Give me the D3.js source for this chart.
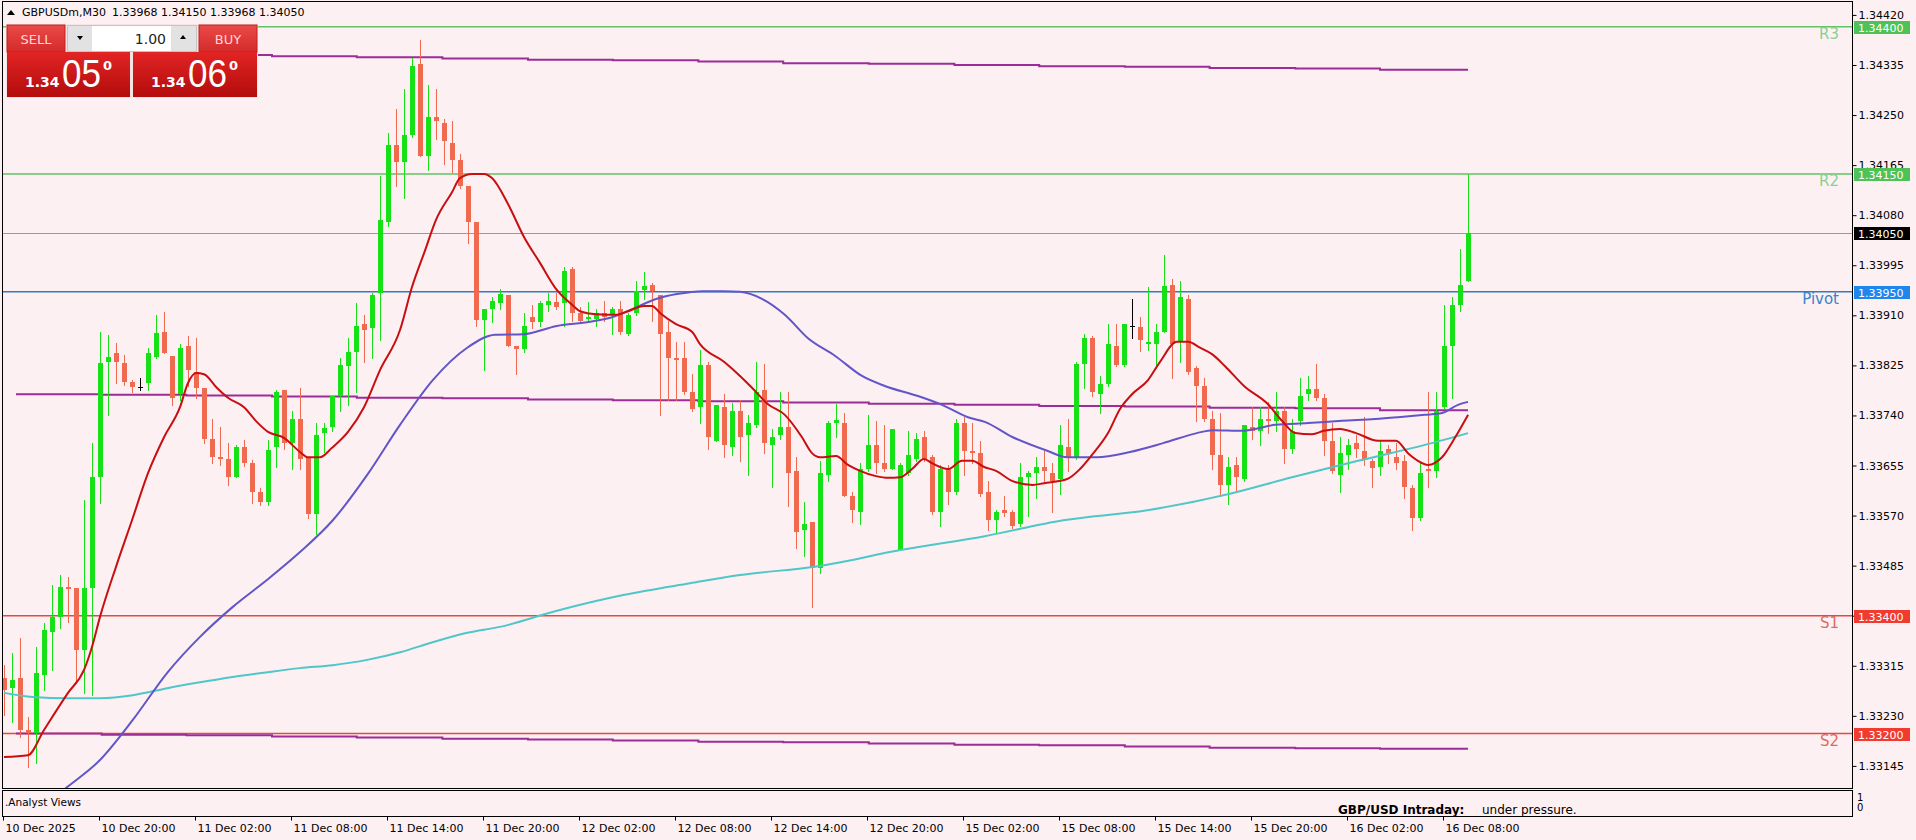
<!DOCTYPE html>
<html><head><meta charset="utf-8">
<script src="https://cdn.jsdelivr.net/npm/d3@7"></script>
<style>
html,body{margin:0;padding:0;background:#fdf0f3;}
svg{display:block;font-family:"DejaVu Sans",sans-serif;}
</style></head><body>
<svg id="chart" width="1916" height="840"></svg>
<script>
// ---------------- DATA ----------------
const symbolTitle = "GBPUSDm,M30";
const titleValues = "1.33968 1.34150 1.33968 1.34050";
const barOpen = [
1.33294,1.33277,1.33294,1.33206,1.33201,1.33299,1.33372,1.33398,1.33449,1.33447,
1.33342,1.33447,1.33635,1.33831,1.33846,1.33829,1.33797,1.33788,1.33795,1.33839,
1.33882,1.33841,1.33776,1.33858,1.33814,1.33787,1.33700,1.33669,1.33666,1.33635,
1.33686,1.33659,1.33610,1.33593,1.33686,1.33783,1.33693,1.33734,1.33669,1.33573,
1.33710,1.33720,1.33773,1.33824,1.33848,1.33895,1.33888,1.33948,1.34068,1.34199,
1.34170,1.34216,1.34337,1.34180,1.34247,1.34237,1.34203,1.34174,1.34130,1.34068,
1.33902,1.33921,1.33931,1.33944,1.33858,1.33853,1.33907,1.33899,1.33928,1.33933,
1.33931,1.33989,1.33914,1.33904,1.33904,1.33914,1.33911,1.33921,1.33878,1.33914,
1.33953,1.33961,1.33944,1.33882,1.33838,1.33838,1.33780,1.33754,1.33826,1.33697,
1.33754,1.33686,1.33748,1.33707,1.33724,1.33783,1.33690,1.33707,1.33720,1.33646,
1.33546,1.33559,1.33481,1.33639,1.33727,1.33727,1.33603,1.33576,1.33649,1.33690,
1.33659,1.33649,1.33512,1.33642,1.33666,1.33703,1.33669,1.33576,1.33649,1.33610,
1.33727,1.33680,1.33676,1.33610,1.33562,1.33579,1.33576,1.33556,1.33635,1.33642,
1.33652,1.33642,1.33632,1.33686,1.33669,1.33827,1.33871,1.33776,1.33793,1.33858,
1.33826,1.33892,1.33890,1.33861,1.33861,1.33882,1.33961,1.33865,1.33938,1.33821,
1.33790,1.33734,1.33673,1.33622,1.33656,1.33632,1.33720,1.33714,1.33734,1.33731,
1.33748,1.33683,1.33731,1.33776,1.33785,1.33770,1.33697,1.33639,1.33673,1.33693,
1.33680,1.33663,1.33652,1.33683,1.33669,1.33663,1.33617,1.33566,1.33649,1.33646,
1.33754,1.33858,1.33928,1.33968];
const barHigh = [
1.33316,1.33337,1.33362,1.33228,1.33347,1.33388,1.33452,1.33469,1.33466,1.33447,
1.33596,1.33693,1.33882,1.33877,1.33863,1.33843,1.33800,1.33804,1.33855,1.33911,
1.33916,1.33841,1.33861,1.33875,1.33871,1.33787,1.33734,1.33720,1.33693,1.33690,
1.33698,1.33664,1.33617,1.33698,1.33783,1.33783,1.33748,1.33787,1.33669,1.33727,
1.33727,1.33773,1.33838,1.33871,1.33931,1.33911,1.33948,1.34147,1.34220,1.34260,
1.34294,1.34347,1.34377,1.34301,1.34294,1.34243,1.34240,1.34184,1.34130,1.34068,
1.33921,1.33941,1.33955,1.33944,1.33858,1.33914,1.33928,1.33934,1.33948,1.33948,
1.33992,1.33992,1.33924,1.33933,1.33921,1.33934,1.33924,1.33934,1.33914,1.33968,
1.33984,1.33965,1.33944,1.33900,1.33865,1.33865,1.33810,1.33851,1.33831,1.33758,
1.33776,1.33761,1.33766,1.33741,1.33831,1.33827,1.33717,1.33780,1.33780,1.33669,
1.33593,1.33559,1.33663,1.33731,1.33759,1.33744,1.33610,1.33659,1.33741,1.33731,
1.33724,1.33717,1.33659,1.33714,1.33710,1.33714,1.33673,1.33656,1.33656,1.33734,
1.33737,1.33727,1.33697,1.33629,1.33579,1.33603,1.33579,1.33659,1.33646,1.33669,
1.33680,1.33659,1.33724,1.33734,1.33831,1.33878,1.33875,1.33807,1.33895,1.33895,
1.33895,1.33938,1.33907,1.33958,1.33895,1.34012,1.33972,1.33968,1.33944,1.33824,
1.33804,1.33748,1.33744,1.33669,1.33669,1.33724,1.33754,1.33754,1.33763,1.33780,
1.33754,1.33734,1.33804,1.33807,1.33827,1.33776,1.33727,1.33703,1.33700,1.33707,
1.33737,1.33666,1.33697,1.33690,1.33693,1.33673,1.33622,1.33659,1.33780,1.33780,
1.33928,1.33941,1.34023,1.34150];
const barLow = [
1.33231,1.33220,1.33194,1.33143,1.33150,1.33274,1.33308,1.33379,1.33389,1.33291,
1.33269,1.33265,1.33591,1.33741,1.33795,1.33792,1.33780,1.33783,1.33783,1.33838,
1.33846,1.33758,1.33766,1.33790,1.33770,1.33693,1.33659,1.33656,1.33622,1.33635,
1.33654,1.33591,1.33588,1.33588,1.33652,1.33683,1.33649,1.33649,1.33566,1.33539,
1.33678,1.33714,1.33748,1.33758,1.33780,1.33831,1.33838,1.33868,1.34062,1.34130,
1.34109,1.34213,1.34180,1.34157,1.34209,1.34167,1.34153,1.34126,1.34033,1.33892,
1.33817,1.33899,1.33921,1.33858,1.33810,1.33848,1.33888,1.33892,1.33917,1.33921,
1.33892,1.33900,1.33899,1.33899,1.33892,1.33900,1.33878,1.33878,1.33877,1.33911,
1.33938,1.33900,1.33741,1.33766,1.33766,1.33776,1.33748,1.33727,1.33683,1.33697,
1.33669,1.33673,1.33663,1.33639,1.33720,1.33676,1.33619,1.33700,1.33586,1.33515,
1.33501,1.33415,1.33473,1.33629,1.33703,1.33603,1.33559,1.33556,1.33646,1.33642,
1.33646,1.33649,1.33512,1.33639,1.33663,1.33663,1.33573,1.33552,1.33590,1.33607,
1.33639,1.33659,1.33603,1.33546,1.33542,1.33569,1.33549,1.33552,1.33569,1.33600,
1.33629,1.33576,1.33607,1.33646,1.33666,1.33787,1.33773,1.33744,1.33790,1.33824,
1.33824,1.33871,1.33849,1.33851,1.33821,1.33882,1.33804,1.33831,1.33810,1.33731,
1.33731,1.33649,1.33603,1.33590,1.33613,1.33629,1.33700,1.33690,1.33710,1.33714,
1.33659,1.33676,1.33724,1.33766,1.33766,1.33673,1.33642,1.33610,1.33649,1.33669,
1.33656,1.33619,1.33639,1.33659,1.33649,1.33600,1.33546,1.33562,1.33619,1.33635,
1.33751,1.33770,1.33917,1.33968];
const barClose = [
1.33274,1.33291,1.33206,1.33201,1.33303,1.33376,1.33398,1.33449,1.33445,1.33342,
1.33447,1.33635,1.33829,1.33839,1.33831,1.33797,1.33788,1.33788,1.33846,1.33880,
1.33846,1.33770,1.33855,1.33817,1.33787,1.33700,1.33669,1.33666,1.33635,1.33686,
1.33659,1.33610,1.33593,1.33681,1.33780,1.33693,1.33734,1.33666,1.33573,1.33707,
1.33719,1.33773,1.33826,1.33848,1.33892,1.33885,1.33944,1.34072,1.34199,1.34170,
1.34216,1.34333,1.34180,1.34247,1.34240,1.34206,1.34174,1.34130,1.34068,1.33902,
1.33921,1.33934,1.33946,1.33858,1.33853,1.33892,1.33899,1.33931,1.33934,1.33924,
1.33985,1.33914,1.33900,1.33907,1.33914,1.33907,1.33921,1.33882,1.33911,1.33951,
1.33960,1.33951,1.33878,1.33838,1.33834,1.33780,1.33751,1.33826,1.33703,1.33758,
1.33690,1.33748,1.33703,1.33727,1.33780,1.33693,1.33703,1.33720,1.33642,1.33542,
1.33556,1.33481,1.33642,1.33727,1.33732,1.33603,1.33579,1.33649,1.33690,1.33659,
1.33649,1.33717,1.33656,1.33673,1.33700,1.33666,1.33576,1.33649,1.33610,1.33727,
1.33680,1.33676,1.33607,1.33562,1.33576,1.33574,1.33552,1.33635,1.33642,1.33652,
1.33646,1.33629,1.33690,1.33669,1.33827,1.33871,1.33780,1.33793,1.33861,1.33826,
1.33895,1.33892,1.33868,1.33865,1.33882,1.33960,1.33861,1.33941,1.33814,1.33790,
1.33734,1.33673,1.33622,1.33652,1.33635,1.33724,1.33714,1.33734,1.33731,1.33748,
1.33683,1.33714,1.33773,1.33785,1.33770,1.33697,1.33646,1.33676,1.33690,1.33683,
1.33666,1.33651,1.33680,1.33676,1.33659,1.33619,1.33566,1.33642,1.33646,1.33748,
1.33858,1.33928,1.33961,1.34050];

// moving averages: [bar index, price]
const maFast = [[0,1.33160],[3,1.33163],[5,1.33206],[8,1.33269],[10,1.33308],[11,1.33347],[12,1.33398],[14,1.33483],[16,1.33562],[18,1.33642],[20,1.33703],[22,1.33754],[23,1.33795],[24,1.33812],[25,1.33810],[26.6,1.33787],[28,1.33770],[30,1.33754],[31.6,1.33729],[33,1.33712],[35,1.33702],[37,1.33678],[38,1.33669],[39.5,1.33669],[41,1.33685],[43,1.33712],[45,1.33754],[47,1.33817],[49.5,1.33885],[51,1.33958],[52.6,1.34019],[54,1.34072],[56,1.34119],[57,1.34143],[58.5,1.34150],[60,1.34150],[61,1.34143],[63,1.34099],[65,1.34043],[67,1.33999],[69,1.33955],[71,1.33928],[72,1.33917],[74,1.33912],[76.6,1.33911],[78,1.33917],[80,1.33926],[81,1.33926],[82,1.33914],[84,1.33895],[86,1.33882],[87,1.33861],[90,1.33831],[92,1.33807],[93.5,1.33787],[95.5,1.33759],[97.6,1.33741],[99.75,1.33703],[101,1.33676],[102,1.33669],[104,1.33671],[105.5,1.33656],[107,1.33646],[109,1.33637],[110.5,1.33634],[112,1.33635],[113.5,1.33649],[115,1.33666],[116,1.33659],[118,1.33649],[119.75,1.33663],[121,1.33663],[122.6,1.33652],[124,1.33646],[126,1.33629],[128.6,1.33622],[130,1.33625],[132.9,1.33632],[134.5,1.33649],[136,1.33673],[138,1.33710],[139.5,1.33751],[141,1.33776],[143,1.33800],[144.5,1.33831],[146.6,1.33865],[148,1.33865],[149.5,1.33855],[151,1.33844],[152.6,1.33824],[155,1.33790],[158,1.33759],[159.75,1.33731],[161.4,1.33710],[163.5,1.33708],[165,1.33714],[167,1.33717],[169,1.33710],[171.75,1.33697],[174,1.33697],[175.5,1.33676],[176.75,1.33663],[178,1.33656],[179.75,1.33669],[181.4,1.33703],[183,1.33741]];
const maMid = [[5.75,1.33085],[7.9,1.33109],[12,1.33155],[16.1,1.33223],[20.4,1.33303],[24.5,1.33364],[28.6,1.33415],[32.9,1.33461],[37,1.33508],[41.1,1.33562],[45.4,1.33639],[49.5,1.33724],[53.6,1.33800],[57.9,1.33855],[61.4,1.33877],[64.9,1.33878],[69.1,1.33892],[73.25,1.33899],[76.1,1.33907],[78.6,1.33921],[81.6,1.33938],[84.1,1.33946],[87.4,1.33951],[89.9,1.33951],[92,1.33950],[94.75,1.33938],[97.6,1.33911],[100.5,1.33871],[103.9,1.33841],[107.25,1.33807],[110.1,1.33790],[114.25,1.33773],[117.25,1.33758],[120.5,1.33737],[122.6,1.33729],[126.1,1.33703],[130.4,1.33680],[132.9,1.33669],[136.6,1.33669],[140.75,1.33678],[144.9,1.33693],[149.1,1.33710],[151.1,1.33715],[154.75,1.33714],[158.9,1.33724],[163,1.33727],[167.25,1.33731],[171.4,1.33734],[174.25,1.33737],[177.6,1.33741],[179.75,1.33744],[181.75,1.33758],[183,1.33763]];
const maSlow = [[0,1.33269],[3.6,1.33262],[7.9,1.33260],[12,1.33260],[16.1,1.33265],[20.4,1.33277],[24.5,1.33287],[28.6,1.33296],[32.9,1.33304],[37,1.33311],[41.1,1.33316],[45.4,1.33325],[49.5,1.33338],[53.6,1.33355],[57.9,1.33371],[62,1.33381],[69,1.33408],[77.4,1.33435],[85.75,1.33455],[92,1.33469],[101.75,1.33484],[112.25,1.33512],[122.6,1.33535],[132.4,1.33562],[142.9,1.33579],[153.25,1.33607],[161,1.33635],[169.25,1.33663],[177.6,1.33690],[183,1.33710]];

// stepped purple levels: segment start bars and values
const stepStarts = [1.5,12.2,22.8,33.5,44.1,54.8,65.5,76.1,86.8,97.4,108.1,118.8,129.4,140.1,150.7,161.4,172.0];
const stepEnd = 183;
const levelTop = [1.34352,1.34352,1.34352,1.34350,1.34348,1.34346,1.34344,1.34343,1.34341,1.34338,1.34337,1.34335,1.34333,1.34332,1.34330,1.34329,1.34327];
const levelMid = [1.33776,1.33775,1.33774,1.33772,1.33770,1.33769,1.33767,1.33766,1.33764,1.33762,1.33760,1.33758,1.33756,1.33755,1.33753,1.33752,1.33749];
const levelLow = [1.33200,1.33198,1.33197,1.33195,1.33193,1.33191,1.33190,1.33188,1.33186,1.33185,1.33183,1.33181,1.33180,1.33178,1.33176,1.33175,1.33174];

// pivot levels
const pivotNames = ["R3","R2","Pivot","S1","S2"];
const pivotValues = [1.34400,1.34150,1.33950,1.33400,1.33200];
const lastPrice = 1.34050;

const yTicks = [1.34420,1.34335,1.34250,1.34165,1.34080,1.33995,1.33910,1.33825,1.33740,1.33655,1.33570,1.33485,1.33400,1.33315,1.33230,1.33145];
const timeLabels = ["10 Dec 2025","10 Dec 20:00","11 Dec 02:00","11 Dec 08:00","11 Dec 14:00","11 Dec 20:00","12 Dec 02:00","12 Dec 08:00","12 Dec 14:00","12 Dec 20:00","15 Dec 02:00","15 Dec 08:00","15 Dec 14:00","15 Dec 20:00","16 Dec 02:00","16 Dec 08:00"];
const firstBarUTC = Date.UTC(2025,11,10,14,0);

const sellPrice = ["1.34","05","0"];
const buyPrice = ["1.34","06","0"];
const lotSize = "1.00";
const analystTitle = "GBP/USD Intraday:";
const analystText = "under pressure.";

// ---------------- DRAW ----------------
const svg = d3.select("#chart");
const W = 1916, H = 840;
const P = {left:2, right:1852, top:1, bottom:788};
const SUB = {top:790, bottom:816};

const x = d3.scaleLinear().domain([0,183]).range([4,1468]);
const y = d3.scaleLinear().domain([1.34400,1.33200]).range([26.7,733.5]);

svg.append("rect").attr("width",W).attr("height",H).attr("fill","#fdf0f3");

const defs = svg.append("defs");
defs.append("clipPath").attr("id","plotClip").append("rect")
  .attr("x",P.left).attr("y",P.top).attr("width",P.right-P.left).attr("height",P.bottom-P.top);
defs.append("clipPath").attr("id","subClip").append("rect")
  .attr("x",P.left).attr("y",SUB.top).attr("width",P.right-P.left).attr("height",SUB.bottom-SUB.top);

const plot = svg.append("g").attr("clip-path","url(#plotClip)");

// bar times
const months = ["Jan","Feb","Mar","Apr","May","Jun","Jul","Aug","Sep","Oct","Nov","Dec"];
const barKeys = [];
for (let t = firstBarUTC; barKeys.length < barOpen.length; t += 1800000) {
  const d = new Date(t); const wd = d.getUTCDay();
  if (wd === 0 || wd === 6) continue;
  barKeys.push(`${d.getUTCDate()} ${months[d.getUTCMonth()]} ${String(d.getUTCHours()).padStart(2,"0")}:${String(d.getUTCMinutes()).padStart(2,"0")}`);
}
const tickBars = timeLabels.map((l,i) => i === 0 ? 0 : barKeys.indexOf(l));

// pivot lines
const pivotLine = ["#63c266","#63c266","#2f7cc2","#e5483f","#e5483f"];
const pivotText = ["#86d293","#86d293","#3a84c8","#e06a62","#e06a62"];
const pivotBox  = ["#4fc257","#4fc257","#1f86ee","#f23b2f","#f23b2f"];

plot.append("line").attr("x1",P.left).attr("x2",P.right)
  .attr("y1",Math.round(y(lastPrice))+0.5).attr("y2",Math.round(y(lastPrice))+0.5)
  .attr("stroke","#9a9a9a").attr("stroke-width",1);

pivotValues.forEach((v,i) => {
  plot.append("line").attr("x1",P.left).attr("x2",P.right)
    .attr("y1",y(v)).attr("y2",y(v)).attr("stroke",pivotLine[i]).attr("stroke-width",1.6);
});

// stepped purple levels
const stepLine = d3.line().x(d=>x(d[0])).y(d=>y(d[1])).curve(d3.curveStepAfter);
[levelTop, levelMid, levelLow].forEach(arr => {
  const pts = stepStarts.map((s,k)=>[s,arr[k]]);
  pts.push([stepEnd, arr[arr.length-1]]);
  plot.append("path").attr("d",stepLine(pts)).attr("fill","none")
    .attr("stroke","#9c2c98").attr("stroke-width",2);
});

// candles
const bull = "#16e016", bear = "#f06a50";
const candles = plot.append("g").attr("shape-rendering","crispEdges");
barOpen.forEach((o,i) => {
  const c = barClose[i], h = barHigh[i], l = barLow[i];
  const col = c > o ? bull : (c < o ? bear : "#000");
  const cx = Math.round(x(i));
  candles.append("line").attr("x1",cx+0.5).attr("x2",cx+0.5)
    .attr("y1",Math.round(y(h))).attr("y2",Math.round(y(l))+1).attr("stroke",col);
  const yt = Math.round(y(Math.max(o,c))), yb = Math.round(y(Math.min(o,c)));
  if (c === o) {
    candles.append("line").attr("x1",cx-2).attr("x2",cx+3).attr("y1",yt+0.5).attr("y2",yt+0.5).attr("stroke","#000");
  } else {
    candles.append("rect").attr("x",cx-2).attr("y",yt).attr("width",5).attr("height",Math.max(1,yb-yt)).attr("fill",col);
  }
});

// moving averages
const maLine = d3.line().x(d=>x(d[0])).y(d=>y(d[1])).curve(d3.curveMonotoneX);
plot.append("path").attr("d",maLine(maSlow)).attr("fill","none").attr("stroke","#4fc6c8").attr("stroke-width",2);
plot.append("path").attr("d",maLine(maMid)).attr("fill","none").attr("stroke","#6155c8").attr("stroke-width",2);
plot.append("path").attr("d",maLine(maFast)).attr("fill","none").attr("stroke","#c80f10").attr("stroke-width",2);

// pivot labels
pivotValues.forEach((v,i) => {
  svg.append("text").attr("x",1839).attr("y",y(v)+12.5).attr("text-anchor","end")
    .attr("font-size",15).attr("fill",pivotText[i]).text(pivotNames[i]);
});

// frames
svg.append("rect").attr("x",P.left+0.5).attr("y",P.top+0.5).attr("width",P.right-P.left).attr("height",P.bottom-P.top)
  .attr("fill","none").attr("stroke","#000");
svg.append("rect").attr("x",P.left+0.5).attr("y",SUB.top+0.5).attr("width",P.right-P.left).attr("height",SUB.bottom-SUB.top)
  .attr("fill","none").attr("stroke","#000");

// right axis
const yAxis = d3.axisRight(y).tickValues(yTicks).tickSize(4).tickPadding(2).tickFormat(d=>d.toFixed(5));
const ya = svg.append("g").attr("transform",`translate(${P.right+0.5},0)`).call(yAxis);
ya.select(".domain").remove();
ya.selectAll("text").attr("font-size",11).attr("font-family","DejaVu Sans, sans-serif").attr("fill","#000");
ya.selectAll("line").attr("stroke","#000");

// price boxes on axis
function priceBox(v, fill) {
  const yy = Math.round(y(v));
  svg.append("rect").attr("x",P.right+2).attr("y",yy-6).attr("width",56).attr("height",13).attr("fill",fill);
  svg.append("text").attr("x",P.right+6).attr("y",yy+4.5).attr("font-size",11).attr("fill","#fff").text(v.toFixed(5));
}
pivotValues.forEach((v,i)=>priceBox(v,pivotBox[i]));
priceBox(lastPrice,"#000");

// bottom axis
const xAxis = d3.axisBottom(x).tickValues(tickBars).tickSize(4).tickFormat((d,i)=>timeLabels[i]);
const xa = svg.append("g").attr("transform",`translate(-1,${SUB.bottom+0.5})`).call(xAxis);
xa.select(".domain").remove();
xa.selectAll("line").attr("stroke","#000");
xa.selectAll("text").attr("font-size",11).attr("font-family","DejaVu Sans, sans-serif").attr("fill","#000")
  .attr("text-anchor","start").attr("x",2).attr("y",8).attr("dy","0.71em");

// subwindow
svg.append("text").attr("x",5).attr("y",806).attr("font-size",10.5).attr("fill","#000").text(".Analyst Views");
const sub = svg.append("g").attr("clip-path","url(#subClip)");
sub.append("text").attr("x",1338).attr("y",814).attr("font-size",12).attr("font-weight","bold").attr("fill","#000").text(analystTitle);
sub.append("text").attr("x",1482).attr("y",814).attr("font-size",12).attr("fill","#000").text(analystText);
svg.append("text").attr("x",1857).attr("y",801).attr("font-size",10).attr("fill","#000").text("1");
svg.append("text").attr("x",1857).attr("y",811).attr("font-size",10).attr("fill","#000").text("0");

// title
svg.append("path").attr("d","M7,15 L11,10 L15,15 Z").attr("fill","#000");
svg.append("text").attr("x",22).attr("y",16).attr("font-size",11).attr("fill","#000").text(symbolTitle);
svg.append("text").attr("x",112).attr("y",16).attr("font-size",11).attr("fill","#000").text(titleValues);

// one-click trading panel
const g1 = defs.append("linearGradient").attr("id","btnGrad").attr("x1",0).attr("x2",0).attr("y1",0).attr("y2",1);
g1.append("stop").attr("offset","0%").attr("stop-color","#ea4a48");
g1.append("stop").attr("offset","100%").attr("stop-color","#d42a2a");
const g2 = defs.append("linearGradient").attr("id","priceGrad").attr("x1",0).attr("x2",0).attr("y1",0).attr("y2",1);
g2.append("stop").attr("offset","0%").attr("stop-color","#e22424");
g2.append("stop").attr("offset","100%").attr("stop-color","#b30c0c");

const panel = svg.append("g");
panel.append("rect").attr("x",6).attr("y",24).attr("width",252).attr("height",74).attr("fill","#f4e4e6");
panel.append("rect").attr("x",7).attr("y",25).attr("width",58).attr("height",27).attr("fill","url(#btnGrad)").attr("stroke","#c22020");
panel.append("text").attr("x",36).attr("y",44).attr("text-anchor","middle").attr("font-size",13).attr("fill","#ffd6d6").text("SELL");
panel.append("rect").attr("x",199).attr("y",25).attr("width",58).attr("height",27).attr("fill","url(#btnGrad)").attr("stroke","#c22020");
panel.append("text").attr("x",228).attr("y",44).attr("text-anchor","middle").attr("font-size",13).attr("fill","#ffd6d6").text("BUY");
panel.append("rect").attr("x",67.5).attr("y",25.5).attr("width",129).attr("height",26).attr("fill","#fff").attr("stroke","#c4c4c4");
panel.append("rect").attr("x",68).attr("y",26).attr("width",24).attr("height",25).attr("fill","#e2e2e2");
panel.append("rect").attr("x",171).attr("y",26).attr("width",25).attr("height",25).attr("fill","#e2e2e2");
panel.append("path").attr("d","M77,36 L83,36 L80,40 Z").attr("fill","#000");
panel.append("path").attr("d","M180,39 L186,39 L183,35 Z").attr("fill","#000");
panel.append("text").attr("x",166).attr("y",44).attr("text-anchor","end").attr("font-size",14).attr("fill","#222").text(lotSize);
panel.append("rect").attr("x",7).attr("y",52).attr("width",123).attr("height",45).attr("fill","url(#priceGrad)");
panel.append("rect").attr("x",133).attr("y",52).attr("width",124).attr("height",45).attr("fill","url(#priceGrad)");
function bigPrice(x0, parts) {
  panel.append("text").attr("x",x0).attr("y",87).attr("font-size",14).attr("font-weight","bold").attr("fill","#fff").text(parts[0]);
  panel.append("text").attr("x",x0+37).attr("y",87).attr("font-family","Liberation Sans, sans-serif").attr("font-size",39)
    .attr("textLength",39).attr("lengthAdjust","spacingAndGlyphs").attr("fill","#fff").text(parts[1]);
  panel.append("text").attr("x",x0+78).attr("y",70).attr("font-size",13).attr("font-weight","bold").attr("fill","#fff").text(parts[2]);
}
bigPrice(25, sellPrice);
bigPrice(151, buyPrice);
</script>
</body></html>
